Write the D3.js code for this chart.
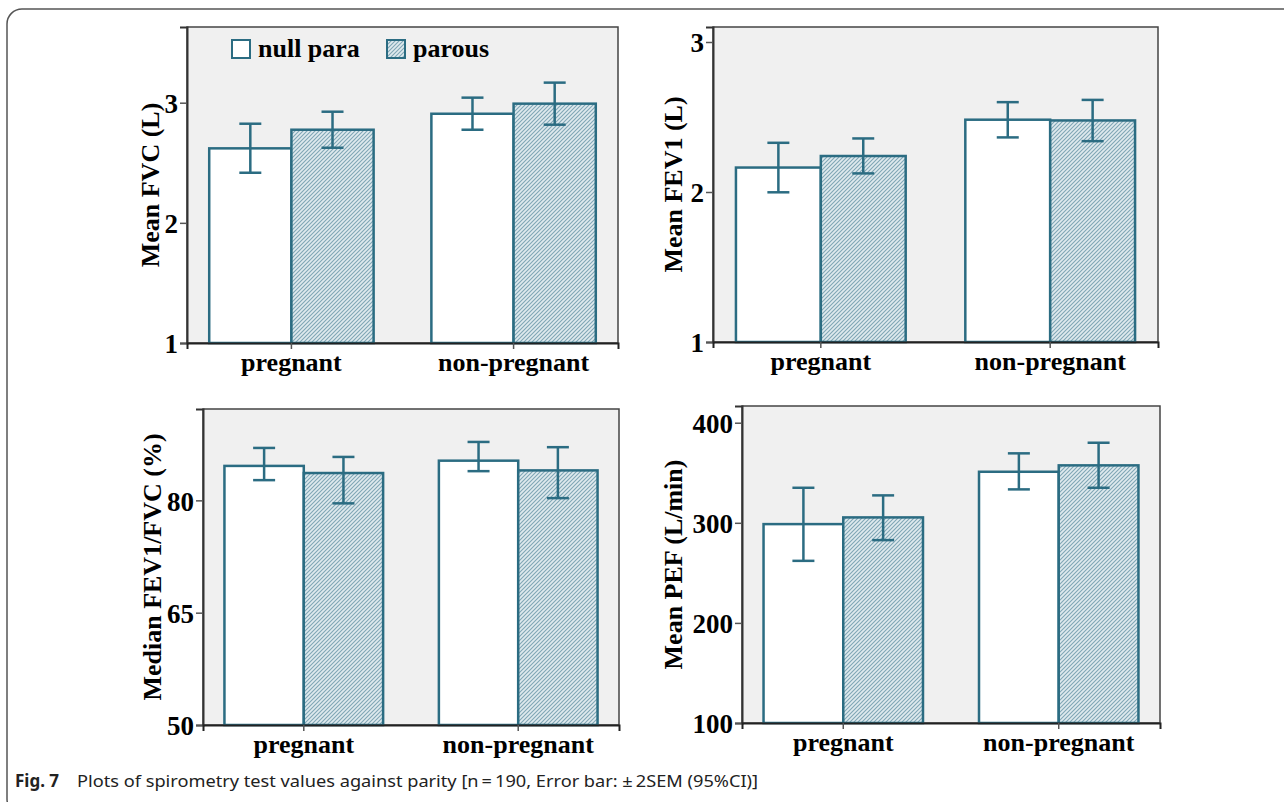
<!DOCTYPE html>
<html>
<head>
<meta charset="utf-8">
<script src="https://cdn.jsdelivr.net/npm/d3@7"></script>
<style>
  body { margin: 0; background: #fff; }
  svg { display: block; }
</style>
</head>
<body>
<div id="chart"></div>
<script>
// data
var groups = ["pregnant", "non-pregnant"];
var series = ["null para", "parous"];

var fvcMean = [[2.62, 2.775], [2.908, 2.992]];
var fvcLow  = [[2.417, 2.625], [2.775, 2.817]];
var fvcHigh = [[2.825, 2.925], [3.042, 3.167]];

var fev1Mean = [[2.163, 2.24], [2.482, 2.477]];
var fev1Low  = [[1.998, 2.124], [2.364, 2.339]];
var fev1High = [[2.328, 2.357], [2.599, 2.614]];

var ratioMed  = [[84.6, 83.65], [85.3, 84.0]];
var ratioLow  = [[82.7, 79.6], [83.9, 80.3]];
var ratioHigh = [[87.0, 85.8], [87.8, 87.1]];

var pefMean = [[298.7, 305.4], [351, 357.4]];
var pefLow  = [[262, 282.7], [333.4, 335]];
var pefHigh = [[335, 327.4], [369.4, 380]];

var fvcTicks = [1, 2, 3];
var fev1Ticks = [1, 2, 3];
var ratioTicks = [50, 65, 80];
var pefTicks = [100, 200, 300, 400];

var captionBold = "Fig. 7";
var captionText = "Plots of spirometry test values against parity [n\u2009=\u2009190, Error bar: \u00b1\u20092SEM (95%CI)]";

var teal = "#2b6c82";
var serif = "'Liberation Serif', 'Times New Roman', serif";

var svg = d3.select("#chart").append("svg")
    .attr("width", 1284).attr("height", 802);

// hatch for parous
var defs = svg.append("defs");
var pat = defs.append("pattern")
    .attr("id", "hatch")
    .attr("patternUnits", "userSpaceOnUse")
    .attr("width", 4).attr("height", 4);
pat.append("rect").attr("width", 4).attr("height", 4).attr("fill", "#dfeaee");
pat.append("path")
    .attr("d", "M-1,1 l2,-2 M0,4 l4,-4 M3,5 l2,-2")
    .attr("stroke", "#7fa6b5").attr("stroke-width", 1.1);

// outer figure border
svg.append("rect")
    .attr("x", 7).attr("y", 9).attr("width", 1300).attr("height", 805)
    .attr("rx", 15).attr("ry", 15)
    .attr("fill", "none").attr("stroke", "#555").attr("stroke-width", 1.5);

function drawPanel(opt) {
    var g = svg.append("g").attr("transform", "translate(" + opt.x + "," + opt.y + ")");
    var w = opt.w, h = opt.h;

    g.append("rect").attr("width", w).attr("height", h)
        .attr("fill", "#f0f0f0").attr("stroke", "#444").attr("stroke-width", 1.5);

    var x = d3.scaleBand().domain(groups).range([0, w])
        .paddingInner(0.26).paddingOuter(0.1);
    var xs = d3.scaleBand().domain(series).range([0, x.bandwidth()]);
    var y = d3.scaleLinear().domain(opt.domain).range([h, 0]);

    groups.forEach(function(grp, gi) {
        series.forEach(function(s, si) {
            var bx = x(grp) + xs(s);
            g.append("rect")
                .attr("x", bx).attr("y", y(opt.mean[gi][si]))
                .attr("width", xs.bandwidth())
                .attr("height", h - y(opt.mean[gi][si]))
                .attr("fill", si === 0 ? "#fff" : "url(#hatch)")
                .attr("stroke", teal).attr("stroke-width", 2.5);
        });
    });

    // error bars
    groups.forEach(function(grp, gi) {
        series.forEach(function(s, si) {
            var cx = x(grp) + xs(s) + xs.bandwidth() / 2;
            var lo = y(opt.low[gi][si]), hi = y(opt.high[gi][si]);
            var eb = g.append("g").attr("stroke", teal).attr("stroke-width", 2.5);
            eb.append("line").attr("x1", cx).attr("x2", cx).attr("y1", lo).attr("y2", hi);
            eb.append("line").attr("x1", cx - 11).attr("x2", cx + 11).attr("y1", lo).attr("y2", lo);
            eb.append("line").attr("x1", cx - 11).attr("x2", cx + 11).attr("y1", hi).attr("y2", hi);
        });
    });

    // axes
    var yAxis = g.append("g")
        .call(d3.axisLeft(y).tickValues(opt.ticks).tickSize(7).tickPadding(2).tickFormat(d3.format("d")));
    yAxis.select(".domain").attr("stroke", "#333").attr("stroke-width", 2);
    yAxis.selectAll(".tick line").attr("stroke", "#555").attr("stroke-width", 1.5);
    yAxis.selectAll("text")
        .attr("font-family", serif).attr("font-weight", "bold").attr("font-size", 27)
        .attr("fill", "#000").attr("dy", "0.36em");

    var xAxis = g.append("g").attr("transform", "translate(0," + h + ")")
        .call(d3.axisBottom(x).tickSize(6).tickPadding(4));
    xAxis.select(".domain").attr("stroke", "#222").attr("stroke-width", 2);
    xAxis.selectAll(".tick line").attr("stroke", "#555").attr("stroke-width", 1.5);
    xAxis.selectAll("text")
        .attr("font-family", serif).attr("font-weight", "bold").attr("font-size", 26)
        .attr("fill", "#000");

    g.append("text")
        .attr("transform", "translate(" + opt.titleX + "," + (h / 2) + ") rotate(-90)")
        .attr("text-anchor", "middle").attr("dy", "0.35em")
        .attr("font-family", serif).attr("font-weight", "bold").attr("font-size", 26)
        .attr("fill", "#000")
        .text(opt.title);

    return g;
}

var p1 = drawPanel({ x: 187, y: 27, w: 431, h: 316, domain: [1, 3.63], ticks: fvcTicks,
    mean: fvcMean, low: fvcLow, high: fvcHigh, title: "Mean FVC (L)", titleX: -37 });
drawPanel({ x: 713, y: 27, w: 445, h: 315, domain: [1, 3.1], ticks: fev1Ticks,
    mean: fev1Mean, low: fev1Low, high: fev1High, title: "Mean FEV1 (L)", titleX: -40 });
drawPanel({ x: 203, y: 409, w: 416, h: 316, domain: [50, 92.2], ticks: ratioTicks,
    mean: ratioMed, low: ratioLow, high: ratioHigh, title: "Median FEV1/FVC (%)", titleX: -51 });
drawPanel({ x: 742, y: 406, w: 418, h: 317, domain: [100, 416.7], ticks: pefTicks,
    mean: pefMean, low: pefLow, high: pefHigh, title: "Mean PEF (L/min)", titleX: -69 });

// legend inside first panel
var leg = p1.append("g").attr("transform", "translate(45,13)");
series.forEach(function(s, i) {
    var lx = i === 0 ? 0 : 155;
    leg.append("rect").attr("x", lx).attr("y", 0).attr("width", 18).attr("height", 18)
        .attr("fill", i === 0 ? "#fff" : "url(#hatch)")
        .attr("stroke", teal).attr("stroke-width", 2);
    leg.append("text").attr("x", lx + 26).attr("y", 17)
        .attr("font-family", serif).attr("font-weight", "bold").attr("font-size", 26)
        .attr("fill", "#000").text(s);
});

// caption
svg.append("text").attr("x", 15).attr("y", 787)
    .attr("font-family", "'Noto Sans', sans-serif").attr("font-weight", "bold")
    .attr("font-size", 17).attr("fill", "#222")
    .text(captionBold);
svg.append("text").attr("x", 77).attr("y", 787)
    .attr("font-family", "'Liberation Sans Narrow', 'Noto Sans', sans-serif")
    .attr("font-size", 17).attr("fill", "#222")
    .attr("textLength", 681).attr("lengthAdjust", "spacingAndGlyphs")
    .text(captionText);
</script>
</body>
</html>
